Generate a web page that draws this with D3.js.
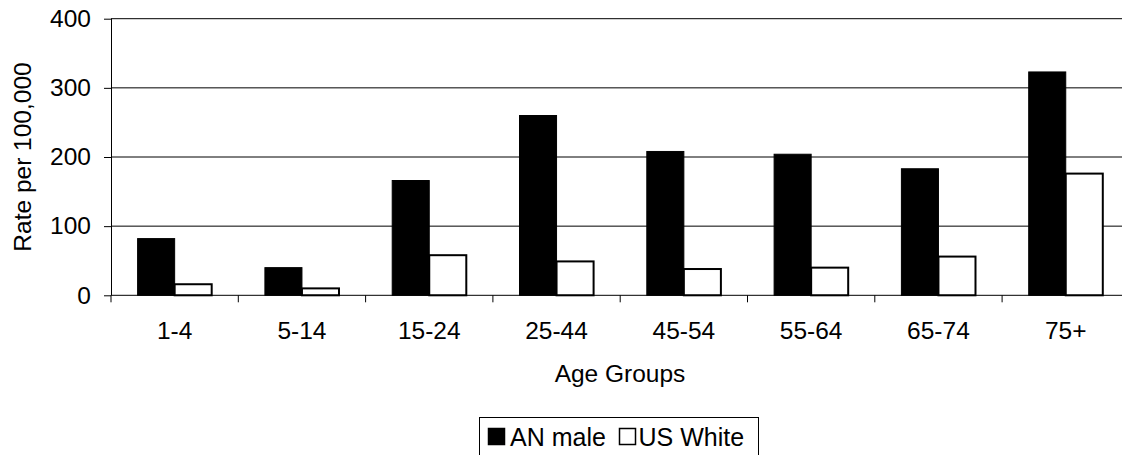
<!DOCTYPE html>
<html>
<head>
<meta charset="utf-8">
<script src="https://cdn.jsdelivr.net/npm/d3@7"></script>
<style>
  html, body { margin: 0; padding: 0; background: #fff; }
  svg { display: block; font-family: "Liberation Sans", Arial, sans-serif; }
</style>
</head>
<body>
<svg id="chart" width="1122" height="455"></svg>
<script>
const categories = ["1-4", "5-14", "15-24", "25-44", "45-54", "55-64", "65-74", "75+"];
const seriesNames = ["AN male", "US White"];
const anMale = [82, 40, 166, 260, 208, 204, 183, 323];
const usWhite = [16, 10, 58, 49, 38, 40, 56, 176];
const yTicks = [0, 100, 200, 300, 400];

(function () {
const svg = d3.select("#chart");
const pL = 111, pR = 1129.4, pT = 18.7, pB = 295.3;
const fs = 24.5;

const x0 = d3.scaleBand().domain(categories).range([pL, pR]).padding(0);
const bw = x0.bandwidth();
const x1 = d3.scaleBand().domain(seriesNames).range([0.209 * bw, 0.791 * bw]).padding(0);
const y = d3.scaleLinear().domain([0, 400]).range([pB, pT]);

// gridlines
svg.append("g").selectAll("line").data(yTicks.filter(d => d > 0)).join("line")
  .attr("x1", pL).attr("x2", pR)
  .attr("y1", d => y(d)).attr("y2", d => y(d))
  .attr("stroke", "#000").attr("stroke-width", 1);

// bars
const rows = categories.map((c, i) => ({ c, vals: [anMale[i], usWhite[i]] }));
const g = svg.append("g").selectAll("g").data(rows).join("g")
  .attr("transform", d => `translate(${x0(d.c)},0)`);
g.selectAll("rect").data(d => d.vals.map((v, j) => ({ v, s: seriesNames[j] }))).join("rect")
  .attr("x", d => x1(d.s))
  .attr("width", x1.bandwidth())
  .attr("y", d => y(d.v))
  .attr("height", d => y(0) - y(d.v))
  .attr("fill", d => d.s === "AN male" ? "#000" : "#fff")
  .attr("stroke", "#000")
  .attr("stroke-width", d => d.s === "AN male" ? 1 : 2);

// y axis
const yAxis = d3.axisLeft(y).tickValues(yTicks).tickSize(7).tickPadding(13).tickFormat(d3.format("d"));
const ya = svg.append("g").attr("transform", `translate(${pL},0)`).call(yAxis);
ya.select(".domain").attr("stroke", "#000").attr("d", `M0.5,${pB}V${pT}`);
ya.selectAll(".tick line").attr("stroke", "#000");
ya.selectAll(".tick text").attr("font-size", fs).attr("fill", "#000").attr("font-family", "Liberation Sans, Arial, sans-serif");

// x axis
const xa = svg.append("g").attr("transform", `translate(0,${pB})`);
xa.append("line").attr("x1", pL).attr("x2", pR).attr("y1", 0).attr("y2", 0).attr("stroke", "#000");
const bounds = d3.range(categories.length + 1).map(i => pL + i * bw);
xa.selectAll("line.t").data(bounds).join("line").attr("class", "t")
  .attr("x1", d => d).attr("x2", d => d).attr("y1", 0).attr("y2", 7).attr("stroke", "#000");
xa.selectAll("text").data(categories).join("text")
  .attr("x", d => x0(d) + bw / 2).attr("y", 339 - pB)
  .attr("text-anchor", "middle").attr("font-size", fs).attr("fill", "#000")
  .text(d => d);

// axis titles
svg.append("text").attr("x", 620).attr("y", 381.5).attr("text-anchor", "middle")
  .attr("font-size", fs).text("Age Groups");
svg.append("text").attr("transform", `translate(31,${(pT + pB) / 2}) rotate(-90)`)
  .attr("text-anchor", "middle").attr("font-size", fs).text("Rate per 100,000");

// legend
const lg = svg.append("g");
lg.append("rect").attr("x", 479.5).attr("y", 417.5).attr("width", 279).attr("height", 45)
  .attr("fill", "#fff").attr("stroke", "#000");
const legendItems = [
  { name: seriesNames[0], sx: 488.5, tx: 510, fill: "#000" },
  { name: seriesNames[1], sx: 619.5, tx: 638.5, fill: "#fff" }
];
legendItems.forEach(it => {
  lg.append("rect").attr("x", it.sx).attr("y", 428.5).attr("width", 16).attr("height", 16)
    .attr("fill", it.fill).attr("stroke", "#000").attr("stroke-width", 1.5);
  lg.append("text").attr("x", it.tx).attr("y", 445.5).attr("font-size", 25).text(it.name);
});
})();
</script>
</body>
</html>
